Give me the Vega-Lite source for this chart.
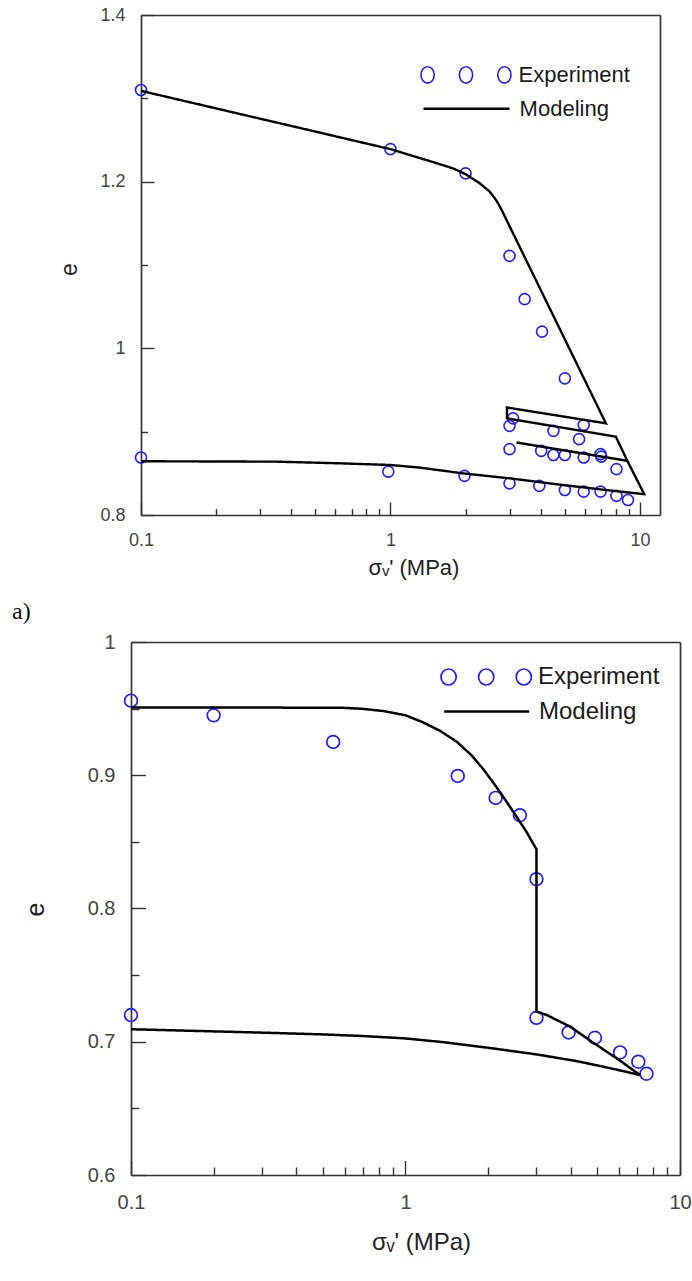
{
  "$schema": "https://vega.github.io/schema/vega-lite/v6.json",
  "padding": {"left": 12, "top": 6, "right": 5, "bottom": 5},
  "config": {
    "view": {"stroke": null},
    "font": "Liberation Sans",
    "axis": {
      "grid": false,
      "labelFont": "Liberation Sans",
      "titleFont": "Liberation Sans",
      "labelColor": "#444444",
      "titleColor": "#222222",
      "titleFontWeight": "normal",
      "domainColor": "#333333",
      "domainWidth": 1.7,
      "tickColor": "#333333",
      "tickWidth": 1.4,
      "labelFlush": false,
      "labelOverlap": false,
      "labelBound": false
    },
    "legend": {"labelFont": "Liberation Sans", "labelColor": "#1a1a1a", "padding": 0, "symbolOffset": 0}
  },
  "datasets": {
    "topExp": [
      {"s": 0.1, "e": 1.310}, {"s": 1.0, "e": 1.239}, {"s": 2.0, "e": 1.210},
      {"s": 3.0, "e": 1.111}, {"s": 3.45, "e": 1.059}, {"s": 4.05, "e": 1.020},
      {"s": 5.0, "e": 0.964}, {"s": 3.1, "e": 0.916}, {"s": 3.0, "e": 0.907},
      {"s": 4.5, "e": 0.901}, {"s": 5.95, "e": 0.908}, {"s": 5.7, "e": 0.891},
      {"s": 3.0, "e": 0.879}, {"s": 4.02, "e": 0.877}, {"s": 4.5, "e": 0.872},
      {"s": 5.0, "e": 0.872}, {"s": 5.95, "e": 0.869}, {"s": 6.95, "e": 0.873},
      {"s": 7.0, "e": 0.870}, {"s": 8.05, "e": 0.855}, {"s": 3.0, "e": 0.838},
      {"s": 3.95, "e": 0.835}, {"s": 5.0, "e": 0.830}, {"s": 5.95, "e": 0.828},
      {"s": 6.95, "e": 0.828}, {"s": 8.05, "e": 0.823}, {"s": 8.95, "e": 0.818},
      {"s": 0.98, "e": 0.852}, {"s": 1.98, "e": 0.847}, {"s": 0.1, "e": 0.869}
    ],
    "topModel": [
      {"i": 1, "s": 0.1, "e": 1.309}, {"i": 2, "s": 0.2, "e": 1.2879},
      {"i": 3, "s": 0.5, "e": 1.2601}, {"i": 4, "s": 1.0, "e": 1.239},
      {"i": 5, "s": 1.5, "e": 1.223}, {"i": 6, "s": 1.78, "e": 1.216},
      {"i": 7, "s": 2.0, "e": 1.209}, {"i": 8, "s": 2.28, "e": 1.198},
      {"i": 9, "s": 2.5, "e": 1.188}, {"i": 10, "s": 2.62, "e": 1.180},
      {"i": 11, "s": 2.7, "e": 1.174}, {"i": 12, "s": 2.79, "e": 1.166},
      {"i": 13, "s": 7.3, "e": 0.910},
      {"i": 14, "s": 2.93, "e": 0.929}, {"i": 15, "s": 2.93, "e": 0.916},
      {"i": 16, "s": 8.0, "e": 0.894}, {"i": 17, "s": 8.9, "e": 0.865},
      {"i": 18, "s": 3.2, "e": 0.887}, {"i": 19, "s": 8.9, "e": 0.865},
      {"i": 20, "s": 10.4, "e": 0.825}, {"i": 21, "s": 7.8, "e": 0.829},
      {"i": 22, "s": 4.9, "e": 0.836}, {"i": 23, "s": 3.0, "e": 0.844},
      {"i": 24, "s": 1.95, "e": 0.850}, {"i": 25, "s": 1.3, "e": 0.857},
      {"i": 26, "s": 1.0, "e": 0.860}, {"i": 27, "s": 0.63, "e": 0.862},
      {"i": 28, "s": 0.35, "e": 0.864}, {"i": 29, "s": 0.1, "e": 0.8645}
    ],
    "botExp": [
      {"s": 0.1, "e": 0.956}, {"s": 0.2, "e": 0.945}, {"s": 0.545, "e": 0.925},
      {"s": 1.55, "e": 0.8995}, {"s": 2.13, "e": 0.883}, {"s": 2.61, "e": 0.870},
      {"s": 3.0, "e": 0.822}, {"s": 3.0, "e": 0.718}, {"s": 3.93, "e": 0.707},
      {"s": 4.9, "e": 0.703}, {"s": 6.05, "e": 0.692}, {"s": 7.05, "e": 0.685},
      {"s": 7.55, "e": 0.676}, {"s": 0.1, "e": 0.720}
    ],
    "botModel": [
      {"i": 1, "s": 0.1, "e": 0.9508}, {"i": 2, "s": 0.3, "e": 0.9508},
      {"i": 3, "s": 0.595, "e": 0.9506}, {"i": 4, "s": 0.7, "e": 0.9498},
      {"i": 5, "s": 0.83, "e": 0.9482}, {"i": 6, "s": 1.0, "e": 0.945},
      {"i": 7, "s": 1.15, "e": 0.940}, {"i": 8, "s": 1.34, "e": 0.9332},
      {"i": 9, "s": 1.54, "e": 0.925}, {"i": 10, "s": 1.74, "e": 0.915},
      {"i": 11, "s": 1.93, "e": 0.904}, {"i": 12, "s": 2.13, "e": 0.892},
      {"i": 13, "s": 2.32, "e": 0.881}, {"i": 14, "s": 2.51, "e": 0.8704},
      {"i": 15, "s": 2.75, "e": 0.858}, {"i": 16, "s": 3.0, "e": 0.8444},
      {"i": 17, "s": 3.0, "e": 0.7226}, {"i": 18, "s": 3.27, "e": 0.7201},
      {"i": 19, "s": 3.98, "e": 0.7113}, {"i": 20, "s": 4.83, "e": 0.6993},
      {"i": 21, "s": 6.05, "e": 0.6858}, {"i": 22, "s": 7.15, "e": 0.675},
      {"i": 23, "s": 6.2, "e": 0.678}, {"i": 24, "s": 5.25, "e": 0.6813},
      {"i": 25, "s": 4.2, "e": 0.6855}, {"i": 26, "s": 3.0, "e": 0.6905},
      {"i": 27, "s": 2.0, "e": 0.6955}, {"i": 28, "s": 1.4, "e": 0.6995},
      {"i": 29, "s": 1.0, "e": 0.7025}, {"i": 30, "s": 0.7, "e": 0.7043},
      {"i": 31, "s": 0.5, "e": 0.7055}, {"i": 32, "s": 0.306, "e": 0.7068},
      {"i": 33, "s": 0.1, "e": 0.7094}
    ]
  },
  "vconcat": [
    {
      "width": 529,
      "height": 500,
      "layer": [
        {
          "data": {"name": "topExp"},
          "mark": {"type": "point", "shape": "circle", "filled": false, "strokeWidth": 1.6, "size": 121, "opacity": 1},
          "encoding": {
            "x": {"field": "s", "type": "quantitative",
                  "scale": {"type": "log", "domain": [0.1, 12.03], "rangeMin": 10, "nice": false},
                  "axis": {"orient": "top", "labels": false, "ticks": false, "title": null}},
            "y": {"field": "e", "type": "quantitative",
                  "scale": {"domain": [0.8, 1.4], "zero": false, "nice": false},
                  "axis": {"orient": "right", "labels": false, "ticks": false, "title": null}},
            "color": {"datum": "Experiment", "scale": {"range": ["#1f1fff"]},
                      "legend": {"title": null, "orient": "none", "legendX": 291, "legendY": 15.9,
                                 "symbolSize": 7396, "symbolStrokeWidth": 1.6, "labelFontSize": 22, "labelOffset": 8.6,
                                 "symbolType": "M -0.7395 0 A 0.1535 0.1907 0 1 1 -1.0465 0 A 0.1535 0.1907 0 1 1 -0.7395 0 Z M 0.1535 0 A 0.1535 0.1907 0 1 1 -0.1535 0 A 0.1535 0.1907 0 1 1 0.1535 0 Z M 1.0465 0 A 0.1535 0.1907 0 1 1 0.7395 0 A 0.1535 0.1907 0 1 1 1.0465 0 Z"}}
          }
        },
        {
          "data": {"name": "topModel"},
          "mark": {"type": "line", "color": "#000000", "strokeWidth": 2.4, "strokeJoin": "miter"},
          "encoding": {
            "x": {"field": "s", "type": "quantitative",
                  "axis": {"orient": "bottom",
                           "values": [0.1, 0.2, 0.3, 0.4, 0.5, 0.6, 0.7, 0.8, 0.9, 1, 2, 3, 4, 5, 6, 7, 8, 9, 10],
                           "format": "~g",
                           "labelExpr": "(datum.value == 0.1 || datum.value == 1 || datum.value == 10) ? datum.label : ''",
                           "tickSize": {"condition": {"test": "datum.value == 0.1 || datum.value == 1 || datum.value == 10", "value": -13}, "value": -6.5},
                           "labelPadding": 29.5, "labelFontSize": 18,
                           "title": "σᵥ' (MPa)", "titleFontSize": 22,
                           "titleX": 282.5, "titleY": 52, "titleBaseline": "middle", "titleAlign": "center"}},
            "y": {"field": "e", "type": "quantitative",
                  "axis": {"orient": "left", "offset": -10,
                           "values": [0.8, 0.9, 1.0, 1.1, 1.2, 1.3, 1.4],
                           "format": "~g",
                           "labelExpr": "abs(datum.value * 5 - round(datum.value * 5)) < 0.001 ? datum.label : ''",
                           "tickSize": {"condition": {"test": "abs(datum.value * 5 - round(datum.value * 5)) < 0.001", "value": -13}, "value": -6.5},
                           "labelPadding": 29, "labelFontSize": 18,
                           "title": "e", "titleFontSize": 23,
                           "titleX": -72, "titleY": 254, "titleBaseline": "middle", "titleAlign": "center"}},
            "order": {"field": "i", "type": "quantitative"},
            "strokeDash": {"datum": "Modeling", "scale": {"range": [[1, 0]]},
                           "legend": {"title": null, "orient": "none", "legendX": 291, "legendY": 49.2,
                                      "symbolSize": 7396, "symbolType": "stroke", "symbolStrokeWidth": 2.4,
                                      "symbolStrokeColor": "#000000", "labelFontSize": 22, "labelOffset": 8.6}}
          }
        }
      ],
      "resolve": {"axis": {"x": "independent", "y": "independent"}}
    },
    {
      "width": 549,
      "height": 533,
      "title": {"text": "a)", "anchor": "start", "frame": "group", "font": "Liberation Serif",
                "fontSize": 24, "fontWeight": "normal", "color": "#111111", "dx": -119, "offset": 8},
      "layer": [
        {
          "data": {"name": "botExp"},
          "mark": {"type": "point", "shape": "circle", "filled": false, "strokeWidth": 1.7, "size": 163, "opacity": 1},
          "encoding": {
            "x": {"field": "s", "type": "quantitative",
                  "scale": {"type": "log", "domain": [0.1, 10], "nice": false},
                  "axis": {"orient": "top", "labels": false, "ticks": false, "title": null}},
            "y": {"field": "e", "type": "quantitative",
                  "scale": {"domain": [0.6, 1.0], "zero": false, "nice": false},
                  "axis": {"orient": "right", "labels": false, "ticks": false, "title": null}},
            "color": {"datum": "Experiment", "scale": {"range": ["#1f1fff"]},
                      "legend": {"title": null, "orient": "none", "legendX": 311.7, "legendY": -8.5,
                                 "symbolSize": 7225, "symbolStrokeWidth": 1.7, "labelFontSize": 24, "labelOffset": 8.3,
                                 "symbolType": "M -0.7059 0 A 0.1788 0.1882 0 1 1 -1.0635 0 A 0.1788 0.1882 0 1 1 -0.7059 0 Z M 0.1788 0 A 0.1788 0.1882 0 1 1 -0.1788 0 A 0.1788 0.1882 0 1 1 0.1788 0 Z M 1.0635 0 A 0.1788 0.1882 0 1 1 0.7059 0 A 0.1788 0.1882 0 1 1 1.0635 0 Z"}}
          }
        },
        {
          "data": {"name": "botModel"},
          "mark": {"type": "line", "color": "#000000", "strokeWidth": 2.5, "strokeJoin": "miter"},
          "encoding": {
            "x": {"field": "s", "type": "quantitative",
                  "axis": {"orient": "bottom",
                           "values": [0.1, 0.2, 0.3, 0.4, 0.5, 0.6, 0.7, 0.8, 0.9, 1, 2, 3, 4, 5, 6, 7, 8, 9, 10],
                           "format": "~g",
                           "labelExpr": "(datum.value == 0.1 || datum.value == 1 || datum.value == 10) ? datum.label : ''",
                           "tickSize": {"condition": {"test": "datum.value == 0.1 || datum.value == 1 || datum.value == 10", "value": -14.5}, "value": -8},
                           "labelPadding": 31.5, "labelFontSize": 20,
                           "title": "σᵥ' (MPa)", "titleFontSize": 24,
                           "titleX": 290, "titleY": 67, "titleBaseline": "middle", "titleAlign": "center"}},
            "y": {"field": "e", "type": "quantitative",
                  "axis": {"orient": "left",
                           "values": [0.6, 0.65, 0.7, 0.75, 0.8, 0.85, 0.9, 0.95, 1.0],
                           "format": "~g",
                           "labelExpr": "abs(datum.value * 10 - round(datum.value * 10)) < 0.001 ? datum.label : ''",
                           "tickSize": {"condition": {"test": "abs(datum.value * 10 - round(datum.value * 10)) < 0.001", "value": -14.5}, "value": -8},
                           "labelPadding": 30.5, "labelFontSize": 20,
                           "title": "e", "titleFontSize": 25,
                           "titleX": -96, "titleY": 267, "titleBaseline": "middle", "titleAlign": "center"}},
            "order": {"field": "i", "type": "quantitative"},
            "strokeDash": {"datum": "Modeling", "scale": {"range": [[1, 0]]},
                           "legend": {"title": null, "orient": "none", "legendX": 311.7, "legendY": 25.5,
                                      "symbolSize": 7225, "symbolType": "stroke", "symbolStrokeWidth": 2.5,
                                      "symbolStrokeColor": "#000000", "labelFontSize": 24, "labelOffset": 8.3}}
          }
        }
      ],
      "resolve": {"axis": {"x": "independent", "y": "independent"}}
    }
  ],
  "spacing": 127,
  "bounds": "flush",
  "resolve": {"scale": {"x": "independent", "y": "independent", "color": "independent", "strokeDash": "independent"}}
}
